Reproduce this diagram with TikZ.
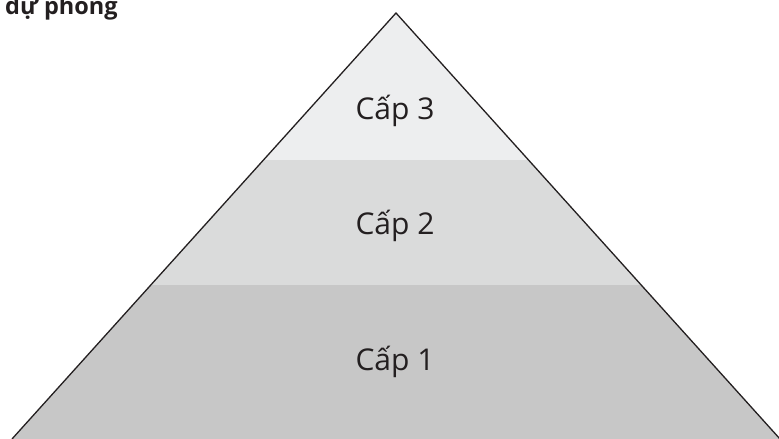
\documentclass[tikz,border=0pt]{standalone}
\usepackage{fontspec}
\setmainfont{Open Sans}
\usepackage{tikz}
\usetikzlibrary{calc}
\definecolor{lvlthree}{HTML}{EDEEEF}
\definecolor{lvltwo}{HTML}{DADBDB}
\definecolor{lvlone}{HTML}{C7C7C7}
\definecolor{edgeink}{HTML}{231F20}

\begin{document}
\begin{tikzpicture}[x=1pt,y=1pt,
    lvltext/.style={font=\fontsize{30}{36}\selectfont,text=edgeink,anchor=base,inner sep=0pt},
    edge/.style={draw=edgeink,line width=1.3pt,line join=miter}]
              \useasboundingbox (0,0) rectangle (779,439);
              \clip (0,0) rectangle (779,439);
              \coordinate (apex) at (396,426);
              \coordinate (bl) at (12,0);
              \coordinate (br) at (780,0);
              \begin{scope}
                \clip (apex)--(bl)--(br)--cycle;
                \fill[lvlone] (0,0) rectangle (779,154);
                \fill[lvltwo] (0,154) rectangle (779,279);
                \fill[lvlthree] (0,279) rectangle (779,439);
              \end{scope}
              \draw[edge] (bl)--(apex)--(br);
              \node[lvltext](c3)at(395,319){Cấp 3};
              \node[lvltext](c2)at(395,204){Cấp 2};
              \node[lvltext](c1)at(395,68){Cấp 1};
              \node[font=\fontsize{23.5}{28}\bfseries\selectfont,text=edgeink,anchor=base west,inner sep=0pt](title)at(5,424){dự phòng};
            \end{tikzpicture}
\end{document}
